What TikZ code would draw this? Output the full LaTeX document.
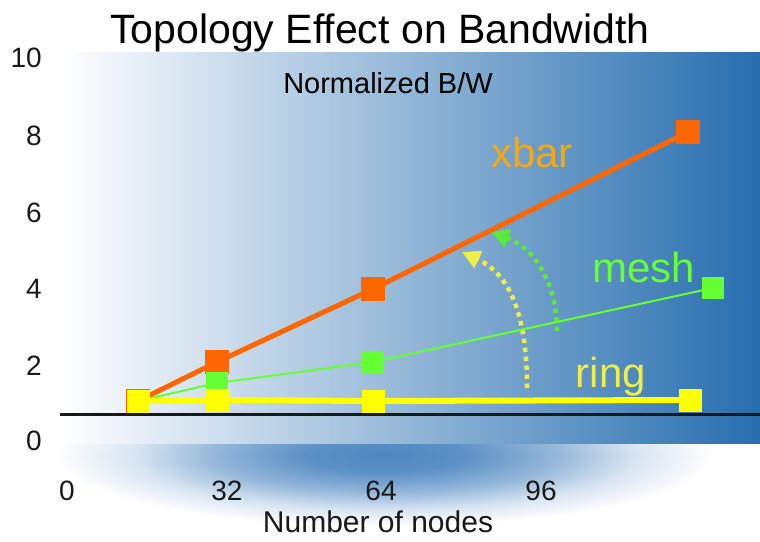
\documentclass[tikz,border=0pt]{standalone}
\usepackage{fontspec}
\setmainfont{Liberation Sans}
\usepackage{xcolor}
\definecolor{bgblue}{RGB}{38, 110, 175}
\definecolor{glowblue}{RGB}{78, 135, 192}
\definecolor{xorange}{RGB}{255, 102, 0}
\definecolor{xlabel}{RGB}{245, 168, 20}
\definecolor{mgreen}{RGB}{102, 255, 51}
\definecolor{adgreen}{RGB}{90, 235, 55}
\definecolor{ryellow}{RGB}{255, 255, 0}
\definecolor{rlabel}{RGB}{238, 238, 70}
\usepackage{tikz}
\usetikzlibrary{arrows.meta}
\pgfdeclareradialshading{glow}{\pgfpoint{0bp}{0bp}}{color(0bp)=(glowblue); color(6bp)=(glowblue!92!white); color(13bp)=(glowblue!60!white); color(19bp)=(glowblue!22!white); color(25bp)=(white); color(50bp)=(white)}

\begin{document}
\begin{tikzpicture}[
        x=1pt, y=-1pt,
        ticklbl/.style={font=\fontsize{28}{32}\selectfont, text=black!90, inner sep=0pt},
        serieslbl/.style={font=\fontsize{42}{48}\selectfont, inner sep=0pt, anchor=base},
        omark/.style={rectangle, fill=xorange, minimum size=24pt, inner sep=0pt},
        gmark/.style={rectangle, fill=mgreen, minimum size=22pt, inner sep=0pt},
        ymark/.style={rectangle, fill=ryellow, minimum size=23pt, inner sep=0pt},
        oline/.style={xorange, line width=5pt},
        gline/.style={mgreen, line width=2pt},
        yline/.style={ryellow, line width=6pt},
        dotarc/.style={line width=4.5pt, dash pattern=on 4.5pt off 4.5pt, -{Triangle[length=18pt, width=18pt]}}
    ]
    \useasboundingbox (0,0) rectangle (760,541);

    % glow under the plot and the plot area
    \shade[shading=glow] (385,455) ellipse [x radius=330pt, y radius=72pt];
    \shade[left color=white, right color=bgblue] (60,52) rectangle (760,443);

    \node[font=\fontsize{41}{48}\selectfont, anchor=base, inner sep=0pt] (title) at (380,43) {Topology Effect on Bandwidth};
    \node[font=\fontsize{29}{34}\selectfont, anchor=base, inner sep=0pt] (ylabel) at (388,93) {Normalized B/W};

    % y ticks
    \node[ticklbl, anchor=base east] (y10) at (42,67)  {10};
    \node[ticklbl, anchor=base east] (y8)  at (42,145) {8};
    \node[ticklbl, anchor=base east] (y6)  at (42,222) {6};
    \node[ticklbl, anchor=base east] (y4)  at (42,298) {4};
    \node[ticklbl, anchor=base east] (y2)  at (42,375) {2};
    \node[ticklbl, anchor=base east] (y0)  at (42,450) {0};

    % x ticks
    \node[ticklbl, anchor=base] (x0)  at (67,500)  {0};
    \node[ticklbl, anchor=base] (x32) at (227,500) {32};
    \node[ticklbl, anchor=base] (x64) at (381,500) {64};
    \node[ticklbl, anchor=base] (x96) at (541,500) {96};
    \node[ticklbl, font=\fontsize{30}{34}\selectfont, anchor=base] (xlabel) at (378,532) {Number of nodes};

    % dotted arrows
    \coordinate (ya) at (527,388);
    \coordinate (yb) at (462,252);
    \coordinate (ga) at (557,331);
    \coordinate (gb) at (491,232);
    \draw[dotarc, rlabel] (ya) .. controls (527,305) and (505,272) .. (yb);
    \draw[dotarc, adgreen] (ga) .. controls (557,280) and (532,247) .. (gb);

    % xbar
    \coordinate (o1) at (138,401);
    \coordinate (o2) at (217,362);
    \coordinate (o3) at (373,289);
    \coordinate (o4) at (688,132);
    \draw[oline] (o1) -- (o2) -- (o3) -- (o4);
    \node[omark] (om1) at (o1) {};
    \node[omark] (om2) at (o2) {};
    \node[omark] (om3) at (o3) {};
    \node[omark] (om4) at (o4) {};

    % mesh
    \coordinate (g1) at (138,401);
    \coordinate (g2) at (217,383);
    \coordinate (g3) at (373,362);
    \coordinate (g4) at (713,288);
    \draw[gline] (g1) -- (g2) -- (g3) -- (g4);
    \node[gmark] (gm1) at (g1) {};
    \node[gmark] (gm2) at (g2) {};
    \node[gmark] (gm3) at (g3) {};
    \node[gmark] (gm4) at (g4) {};

    % ring
    \coordinate (r1) at (138,401);
    \coordinate (r2) at (217,400);
    \coordinate (r3) at (373,401);
    \coordinate (r4) at (690,400);
    \draw[yline] (r1) -- (r2) -- (r3) -- (r4);
    \node[ymark] (rm1) at (r1) {};
    \node[ymark] (rm2) at (r2) {};
    \node[ymark] (rm3) at (r3) {};
    \node[ymark] (rm4) at (r4) {};

    % axis
    \coordinate (axl) at (60,414);
    \coordinate (axr) at (760,414);
    \draw[line width=3pt, black!90] (axl) -- (axr);

    \node[serieslbl, text=xlabel] (xbar) at (532,167) {xbar};
    \node[serieslbl, text=mgreen] (mesh) at (644,282) {mesh};
    \node[serieslbl, text=rlabel] (ring) at (611,387) {ring};
\end{tikzpicture}
\end{document}
